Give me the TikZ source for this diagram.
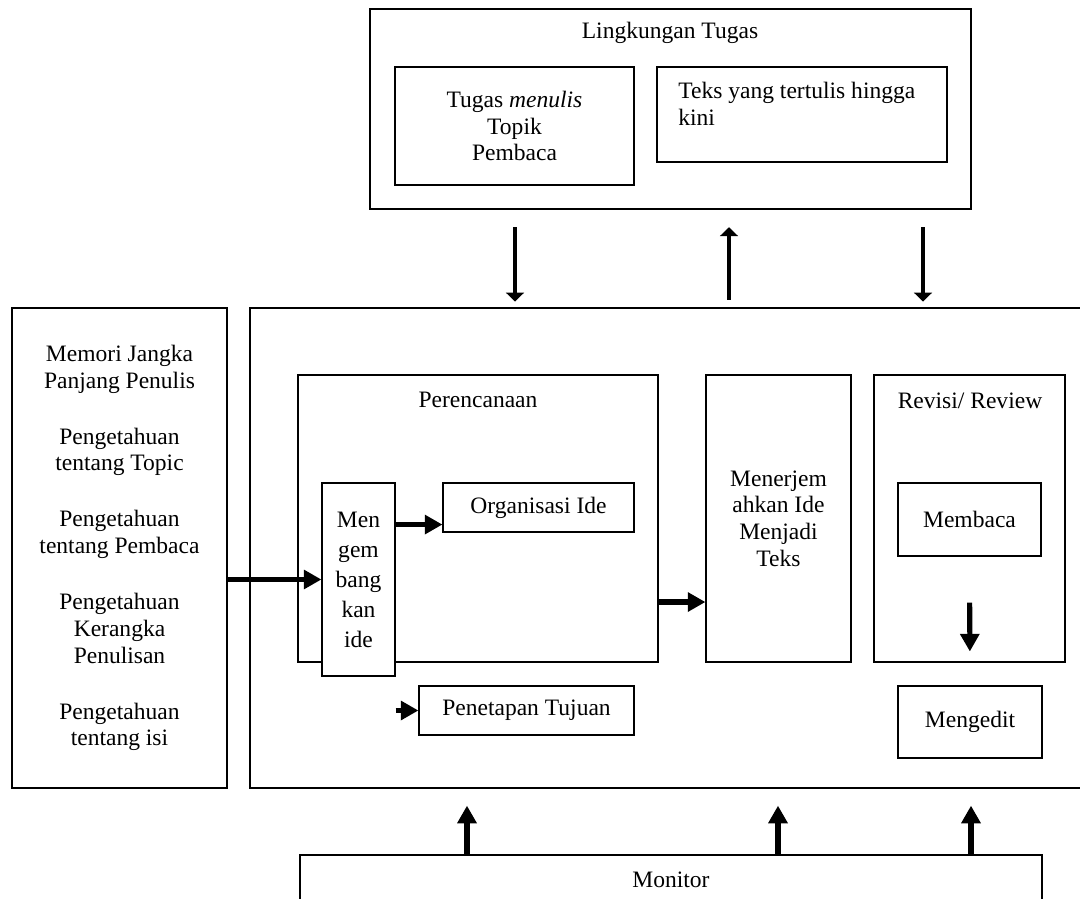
\documentclass[tikz,border=0pt]{standalone}
\usepackage{fontspec}
\setmainfont{Liberation Serif}
\usetikzlibrary{fit,positioning,arrows.meta}

\tikzset{
  box/.style={draw,line width=0.6pt,fill=white,inner sep=0pt},
  bigarrow/.style={line width=2.6pt,-{Triangle[length=9pt,width=9.5pt]}},
  flatarrow/.style={line width=2pt,-{Triangle[length=4.5pt,width=9pt]}},
}

\begin{document}
\begin{tikzpicture}[x=0.51pt,y=-0.51pt,every node/.style={font=\fontsize{12}{13.6}\selectfont}]
\useasboundingbox (0,0) rectangle (1080,899);
\clip (0,0) rectangle (1080,899);
% lingkungan tugas
\node[box,fit={(370,9) (971,209)}] (env) {};
\node (envname) at (670,33) {Lingkungan Tugas};
\node[box,fit={(395,67) (634,185)}] (task) {};
\node[align=center] (taskname) at (task) {Tugas \textit{menulis}\\Topik\\Pembaca};
\node[box,fit={(657,67) (947,162)}] (text) {};
\node[anchor=north west,align=left,inner sep=0pt] (textname) at (678,82) {Teks yang tertulis hingga\\kini};
% memori jangka panjang
\node[box,fit={(12,308) (227,788)}] (memory) {};
\node[align=center] (memoryname) at (memory) {Memori Jangka\\Panjang Penulis\\[15pt]Pengetahuan\\tentang Topic\\[15pt]Pengetahuan\\tentang Pembaca\\[15pt]Pengetahuan\\Kerangka\\Penulisan\\[15pt]Pengetahuan\\tentang isi};
% proses menulis
\node[box,fit={(250,308) (1090,788)}] (main) {};
\node[box,fit={(298,375) (658,662)}] (plan) {};
\node (planname) at (478,400) {Perencanaan};
\node[box,fit={(443,483) (634,532)}] (org) {};
\node (orgname) at (org) {Organisasi Ide};
\node[box,fit={(322,483) (395,676)}] (dev) {};
\node[align=center,font=\fontsize{12}{15.3}\selectfont] (devname) at (dev) {Men\\gem\\bang\\kan\\ide};
\node[box,fit={(419,686) (634,735)}] (goal) {};
\node (goalname) at (goal) {Penetapan Tujuan};
\node[box,fit={(706,375) (851,662)}] (trans) {};
\node[align=center] (transname) at (trans) {Menerjem\\ahkan Ide\\Menjadi\\Teks};
\node[box,fit={(874,375) (1065,662)}] (rev) {};
\node (revname) at (970,401) {Revisi/ Review};
\node[box,fit={(898,483) (1041,556)}] (read) {};
\node (readname) at (read) {Membaca};
\node[box,fit={(898,686) (1042,758)}] (edit) {};
\node (editname) at (edit) {Mengedit};
% monitor
\node[box,fit={(300,855) (1042,905)}] (mon) {};
\node (monname) at (mon) {Monitor};
% panah
\draw[flatarrow,shorten <=9pt,shorten >=3pt] (env.south -| 515,0) -- (main.north -| 515,0);
\draw[flatarrow,shorten <=4pt,shorten >=9pt] (main.north -| 729,0) -- (env.south -| 729,0);
\draw[flatarrow,shorten <=9pt,shorten >=3pt] (env.south -| 923,0) -- (main.north -| 923,0);
\draw[bigarrow] (memory.east |- dev.west) -- (dev.west);
\coordinate (orgin) at ([yshift=-8.7pt]org.west);
\draw[bigarrow] (dev.east |- orgin) -- (orgin);
\draw[bigarrow] (dev.east |- goal.west) -- (goal.west);
\coordinate (transin) at ([yshift=-42.6pt]trans.west);
\draw[bigarrow] (plan.east |- transin) -- (transin);
\draw[bigarrow,shorten <=23.5pt,shorten >=17.3pt] (read.south) -- (edit.north);
\foreach \x in {467,778,971}
  \draw[bigarrow,shorten >=8.7pt] (mon.north -| \x,0) -- (main.south -| \x,0);
\end{tikzpicture}
\end{document}
